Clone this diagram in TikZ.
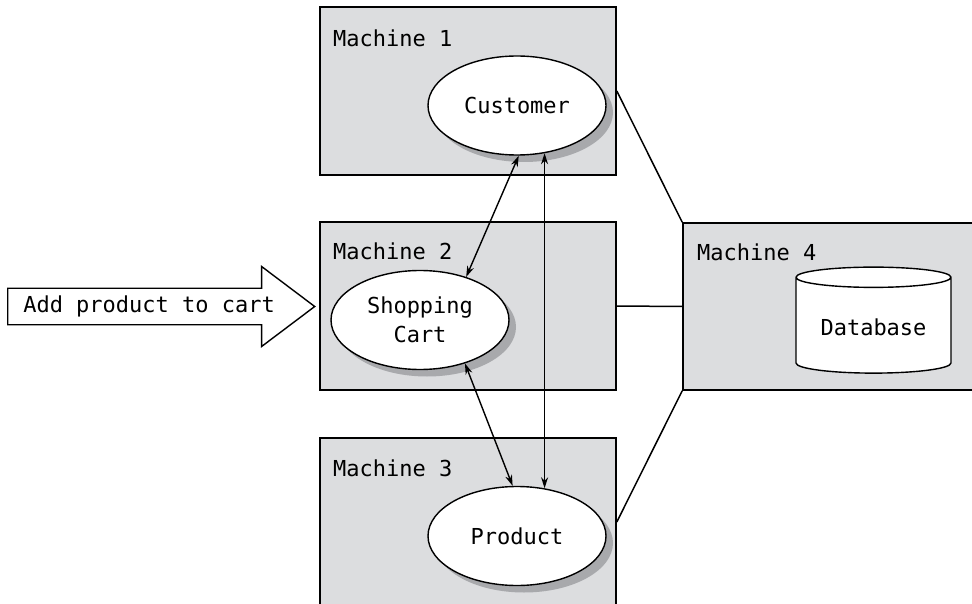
\documentclass[tikz,border=0pt]{standalone}
\usepackage{fontspec}
\setmonofont{DejaVu Sans Mono}
\usetikzlibrary{shapes.geometric,shapes.arrows,shadows,arrows.meta}
\definecolor{boxgray}{HTML}{DCDDDF}
\definecolor{shadowgray}{HTML}{A8A9AC}
\tikzset{
  machine/.style={draw, fill=boxgray, line width=1.6pt, inner sep=0pt,
    minimum width=296pt, minimum height=168pt},
  mlabel/.style={anchor=base west, inner sep=0pt,
    font=\ttfamily\fontsize{22}{26}\selectfont},
  service/.style={ellipse, draw, fill=white, line width=1.4pt, align=center,
    minimum width=178pt, minimum height=99pt,
    font=\ttfamily\fontsize{22}{29}\selectfont,
    drop shadow={shadow xshift=7pt, shadow yshift=-7pt, fill=shadowgray, opacity=1}},
  database/.style={cylinder, shape border rotate=90, draw, fill=white,
    line width=1.4pt, aspect=0.18, minimum width=155pt, minimum height=106pt,
    font=\ttfamily\fontsize{22}{26}\selectfont},
  request/.style={single arrow, draw, fill=white, line width=1.4pt,
    single arrow tip angle=74, single arrow head extend=17.5pt,
    minimum height=307pt, minimum width=80pt,
    font=\ttfamily\fontsize{22}{26}\selectfont},
  link/.style={line width=1.5pt},
  call/.style={line width=1.4pt,
    {Stealth[length=11pt,width=7pt]}-{Stealth[length=11pt,width=7pt]}},
}
\begin{document}
\begin{tikzpicture}[x=1pt,y=-1pt]
    \useasboundingbox (0,0) rectangle (972,604);
    \clip (0,0) rectangle (972,604);
    % the four machine boxes
    \node[machine] (machine1) at (468,91) {};
    \node[machine] (machine2) at (468,306) {};
    \node[machine] (machine3) at (468,522) {};
    \node[machine, minimum width=300pt, minimum height=167pt] (machine4) at (833,306.5) {};
    % the machine labels
    \node[mlabel] (machine1-label) at (333,47) {Machine 1};
    \node[mlabel] (machine2-label) at (333,260) {Machine 2};
    \node[mlabel] (machine3-label) at (333,476) {Machine 3};
    \node[mlabel] (machine4-label) at (697,261) {Machine 4};

    % links between the machines
    \draw[link] (machine1.east) -- (machine4.north west);
    \draw[link] (machine2.east) -- (machine4.west);
    \draw[link] (machine3.east) -- (machine4.south west);

    % the services
    \node[service] (customer) at (517,105.5) {Customer};
    \node[service] (cart) at (420,320) {Shopping\\Cart};
    \node[service] (product) at (517,536) {Product};
    \node[database] (db) at (873.5,327) {Database};

    % the incoming request
    \node[request, anchor=tail] (add) at (7,306.5) {Add product to cart};

    % calls between the services
    \draw[call] (cart.43) -- (customer.272);
    \draw[call] (customer.300) -- (product.60);
    \draw[call] (cart.316) -- (product.95);
\end{tikzpicture}
\end{document}
